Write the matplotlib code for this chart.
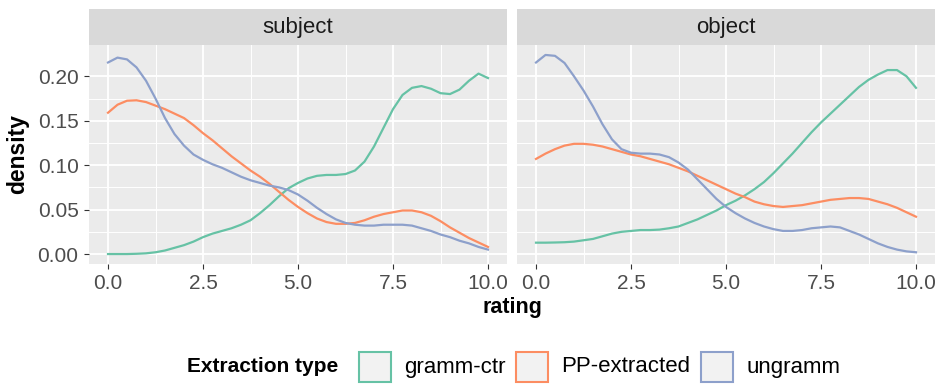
import numpy as np
import matplotlib
matplotlib.use("Agg")
import matplotlib.pyplot as plt
from matplotlib.patches import Rectangle

plt.rcParams['font.family'] = ['Liberation Sans', 'DejaVu Sans']

# rating grid the densities were read on (0 to 10, step 0.25)
rating = np.arange(41) * 0.25

facets = ["subject", "object"]
types = ["gramm-ctr", "PP-extracted", "ungramm"]
colors = ["#66C2A5", "#FC8D62", "#8DA0CB"]

subj_gramm = [0.000, 0.000, 0.000, 0.0003, 0.0008, 0.002, 0.004, 0.007, 0.010, 0.014,
              0.019, 0.023, 0.026, 0.029, 0.033, 0.038, 0.046, 0.055, 0.065, 0.074,
              0.080, 0.085, 0.088, 0.089, 0.089, 0.090, 0.094, 0.104, 0.121, 0.142,
              0.163, 0.179, 0.187, 0.189, 0.186, 0.181, 0.180, 0.185, 0.195, 0.203,
              0.198]
subj_pp = [0.159, 0.168, 0.1725, 0.173, 0.171, 0.167, 0.163, 0.158, 0.153, 0.145,
           0.136, 0.128, 0.119, 0.110, 0.102, 0.094, 0.087, 0.079, 0.070, 0.061,
           0.053, 0.046, 0.040, 0.036, 0.034, 0.034, 0.035, 0.038, 0.042, 0.045,
           0.047, 0.049, 0.049, 0.047, 0.043, 0.037, 0.030, 0.024, 0.018, 0.013,
           0.008]
subj_ungramm = [0.2155, 0.221, 0.219, 0.210, 0.195, 0.175, 0.153, 0.135, 0.122, 0.112,
                0.106, 0.101, 0.097, 0.092, 0.087, 0.083, 0.080, 0.077, 0.075, 0.072,
                0.067, 0.060, 0.052, 0.045, 0.039, 0.035, 0.033, 0.032, 0.032, 0.033,
                0.033, 0.033, 0.032, 0.029, 0.026, 0.022, 0.019, 0.015, 0.012, 0.008,
                0.005]

obj_gramm = [0.0128, 0.0128, 0.013, 0.0133, 0.014, 0.0155, 0.017, 0.020, 0.023, 0.025,
             0.026, 0.027, 0.027, 0.0275, 0.029, 0.031, 0.035, 0.039, 0.044, 0.049,
             0.055, 0.060, 0.066, 0.073, 0.081, 0.091, 0.102, 0.113, 0.125, 0.137,
             0.148, 0.158, 0.168, 0.178, 0.188, 0.196, 0.202, 0.207, 0.207, 0.200,
             0.187]
obj_pp = [0.107, 0.113, 0.118, 0.122, 0.124, 0.124, 0.123, 0.121, 0.118, 0.115,
          0.112, 0.110, 0.107, 0.104, 0.101, 0.097, 0.093, 0.088, 0.083, 0.078,
          0.073, 0.068, 0.064, 0.059, 0.056, 0.054, 0.053, 0.054, 0.055, 0.057,
          0.059, 0.061, 0.062, 0.063, 0.063, 0.062, 0.059, 0.056, 0.052, 0.047,
          0.042]
obj_ungramm = [0.2155, 0.224, 0.223, 0.215, 0.200, 0.184, 0.166, 0.146, 0.129, 0.118,
               0.114, 0.113, 0.113, 0.112, 0.109, 0.103, 0.095, 0.084, 0.073, 0.062,
               0.053, 0.046, 0.040, 0.035, 0.031, 0.028, 0.026, 0.026, 0.027, 0.029,
               0.030, 0.031, 0.030, 0.026, 0.022, 0.017, 0.012, 0.008, 0.005, 0.003,
               0.002]

panel_data = {
    "subject": [subj_gramm, subj_pp, subj_ungramm],
    "object": [obj_gramm, obj_pp, obj_ungramm],
}

W, H = 946, 384
fig = plt.figure(figsize=(W / 100, H / 100), dpi=100)

def px_box(x0, y0, x1, y1):
    # pixel box (top-left origin) -> figure fraction
    return [x0 / W, (H - y1) / H, (x1 - x0) / W, (y1 - y0) / H]

ymax = max(max(s) for v in panel_data.values() for s in v)
ylo, yhi = -0.05 * ymax, ymax * 1.05

panel_x = [(89, 507), (517, 935)]
axes = []
for i, name in enumerate(facets):
    x0, x1 = panel_x[i]
    ax = fig.add_axes(px_box(x0, 45, x1, 264))
    ax.set_facecolor("#EBEBEB")
    for s, c in zip(panel_data[name], colors):
        ax.plot(rating, s, color=c, lw=1.6, solid_joinstyle="round")
    ax.set_xlim(-0.5, 10.5)
    ax.set_ylim(ylo, yhi)
    ax.set_xticks([0, 2.5, 5, 7.5, 10])
    ax.set_xticks([1.25, 3.75, 6.25, 8.75], minor=True)
    ax.set_yticks([0, 0.05, 0.1, 0.15, 0.2])
    ax.set_yticks([0.025, 0.075, 0.125, 0.175], minor=True)
    ax.set_xticklabels(["0.0", "2.5", "5.0", "7.5", "10.0"])
    ax.grid(which="major", color="white", lw=1.3)
    ax.grid(which="minor", color="white", lw=0.7)
    ax.set_axisbelow(True)
    for sp in ax.spines.values():
        sp.set_visible(False)
    ax.tick_params(which="minor", length=0)
    ax.tick_params(which="major", length=3.5, width=0.8, color="#333333",
                   labelsize=15, labelcolor="#4D4D4D", pad=4)
    if i == 0:
        ax.set_yticklabels(["0.00", "0.05", "0.10", "0.15", "0.20"])
    else:
        ax.tick_params(axis="y", left=False, labelleft=False)

    # facet strip
    sax = fig.add_axes(px_box(x0, 9, x1, 45))
    sax.set_facecolor("#D9D9D9")
    sax.set_xticks([])
    sax.set_yticks([])
    for sp in sax.spines.values():
        sp.set_visible(False)
    sax.text(0.5, 0.5, name, ha="center", va="center", fontsize=16,
             color="#1A1A1A", transform=sax.transAxes)
    axes.append(ax)

# axis titles
fig.text(512 / W, 1 - 308 / H, "rating", ha="center", va="center",
         fontsize=15.5, fontweight="bold")
fig.text(18 / W, 1 - 154 / H, "density", ha="center", va="center",
         fontsize=16.5, fontweight="bold", rotation=90)

# legend at the bottom, title on the left
ly = 367
fig.text(187 / W, 1 - ly / H, "Extraction type", ha="left", va="center",
         fontsize=15, fontweight="bold")
box_x = [359, 516, 701]
for bx, lab, c in zip(box_x, types, colors):
    fig.patches.append(Rectangle((bx / W, 1 - 382 / H), 32 / W, 30 / H,
                                 transform=fig.transFigure, facecolor="#F2F2F2",
                                 edgecolor=c, lw=1.5))
    fig.text((bx + 45) / W, 1 - ly / H, lab, ha="left", va="center", fontsize=16)

fig.savefig("out.png", dpi=100)
